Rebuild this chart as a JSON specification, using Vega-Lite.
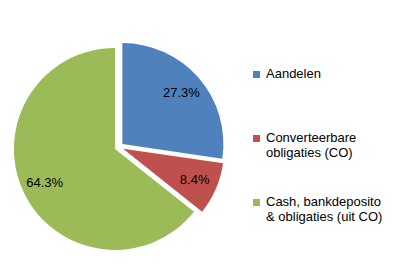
{
  "$schema": "https://vega.github.io/schema/vega-lite/v6.json",
  "width": 238,
  "height": 264,
  "padding": {"top": 15, "left": 0, "right": 0, "bottom": 0},
  "autosize": {"type": "pad"},
  "background": "white",
  "config": {"view": {"stroke": null}, "style": {"guide-label": {"dy": -7}}},
  "data": {
    "values": [
      {"cat": "Aandelen", "v": 0.273, "rank": 1},
      {"cat": "Converteerbare obligaties (CO)", "v": 0.084, "rank": 2},
      {"cat": "Cash, bankdeposito & obligaties (uit CO)", "v": 0.643, "rank": 3}
    ]
  },
  "encoding": {
    "theta": {"field": "v", "type": "quantitative", "stack": true},
    "order": {"field": "rank", "type": "quantitative"}
  },
  "layer": [
    {
      "mark": {"type": "arc", "outerRadius": 101, "xOffset": 3.4, "yOffset": -2.9},
      "encoding": {
        "color": {
          "field": "cat", "type": "nominal",
          "scale": {
            "domain": ["Aandelen", "Converteerbare obligaties (CO)", "Cash, bankdeposito & obligaties (uit CO)"],
            "range": ["#4F81BD", "#C0504D", "#9BBB59"]
          },
          "legend": {
            "title": null,
            "orient": "none",
            "legendX": 250,
            "legendY": 53,
            "symbolType": "square",
            "symbolSize": 49,
            "symbolStrokeWidth": 0,
            "labelFont": "Liberation Sans",
            "labelFontSize": 13,
            "labelColor": "#000000",
            "labelBaseline": "top",
            "labelOffset": 3,
            "labelLimit": 200,
            "rowPadding": 35,
            "padding": 0,
            "labelExpr": "datum.label == 'Aandelen' ? ['Aandelen', ' '] : split(replace(replace(datum.label, 'Converteerbare ', 'Converteerbare|'), 'bankdeposito ', 'bankdeposito|'), '|')"
          }
        },
        "opacity": {"condition": {"test": "datum.rank == 1", "value": 1}, "value": 0}
      }
    },
    {
      "mark": {"type": "arc", "outerRadius": 101, "xOffset": 4.1, "yOffset": 1.8},
      "encoding": {
        "color": {"field": "cat", "type": "nominal"},
        "opacity": {"condition": {"test": "datum.rank == 2", "value": 1}, "value": 0}
      }
    },
    {
      "mark": {"type": "arc", "outerRadius": 101, "xOffset": -4.05, "yOffset": 1.95},
      "encoding": {
        "color": {"field": "cat", "type": "nominal"},
        "opacity": {"condition": {"test": "datum.rank == 3", "value": 1}, "value": 0}
      }
    },
    {
      "mark": {"type": "text", "radius": 78, "xOffset": 3.4, "yOffset": -2.9, "font": "Liberation Sans", "fontSize": 13, "color": "#000000"},
      "encoding": {
        "text": {"field": "v", "type": "quantitative", "format": ".1%"},
        "opacity": {"condition": {"test": "datum.rank == 1", "value": 1}, "value": 0}
      }
    },
    {
      "mark": {"type": "text", "radius": 78, "xOffset": 4.1, "yOffset": 1.8, "font": "Liberation Sans", "fontSize": 13, "color": "#000000"},
      "encoding": {
        "text": {"field": "v", "type": "quantitative", "format": ".1%"},
        "opacity": {"condition": {"test": "datum.rank == 2", "value": 1}, "value": 0}
      }
    },
    {
      "mark": {"type": "text", "radius": 78, "xOffset": -4.05, "yOffset": 1.95, "font": "Liberation Sans", "fontSize": 13, "color": "#000000"},
      "encoding": {
        "text": {"field": "v", "type": "quantitative", "format": ".1%"},
        "opacity": {"condition": {"test": "datum.rank == 3", "value": 1}, "value": 0}
      }
    }
  ]
}
